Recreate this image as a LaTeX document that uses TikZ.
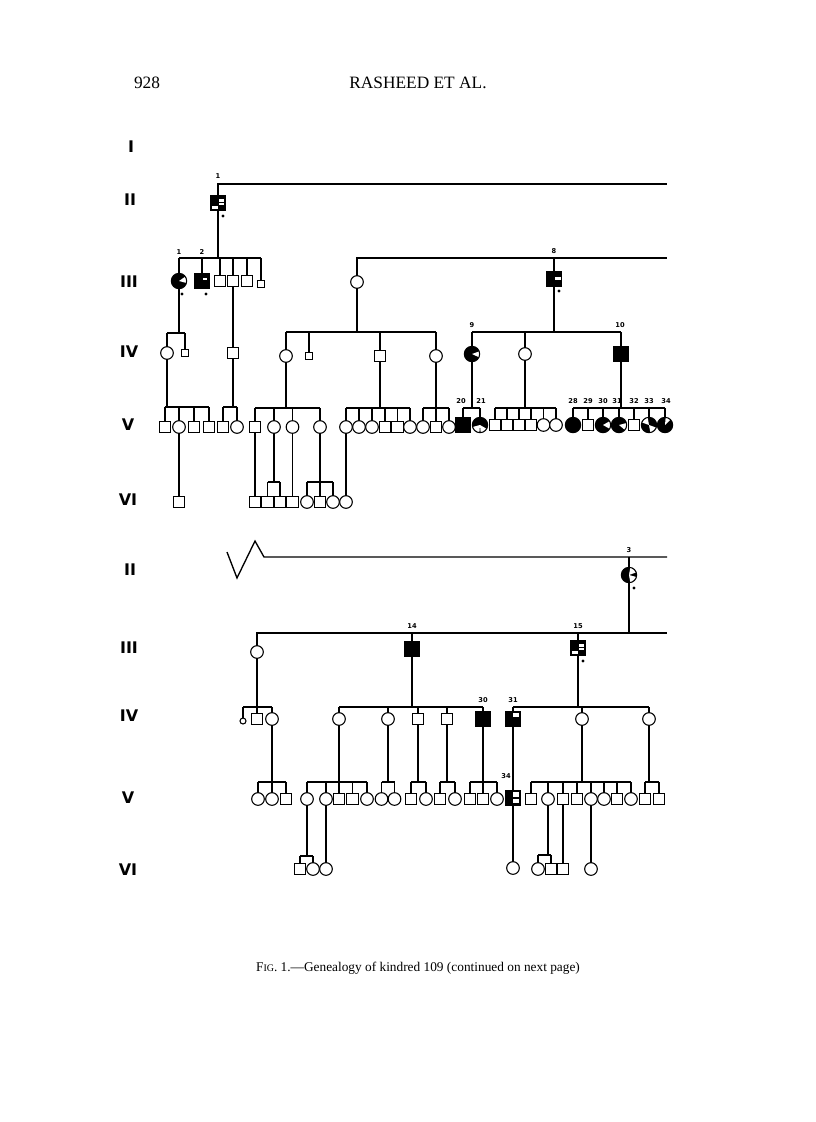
\documentclass[tikz,border=0pt]{standalone}
\usepackage{fontspec}
\setmainfont{Liberation Serif}
\newfontfamily\gfont{DejaVu Sans}
\newcommand\wsec[2]{\fill[white] (path picture bounding box.center) -- +(#1:9pt) arc[start angle=#1,end angle=#2,radius=9pt] -- cycle;}
\newcommand\wrect[4]{\fill[white] ([shift={(#1pt,#3pt)}]path picture bounding box.center) rectangle ([shift={(#2pt,#4pt)}]path picture bounding box.center);}
\newcommand\patA{\wrect{0.9}{4.7}{1.1}{3.2}\wrect{0.9}{4.7}{-1.5}{0.2}\wrect{-4.2}{-0.3}{-4.7}{-2.3}}
\newcommand\sibs[5]{%
  \coordinate (sy) at (0,#2);
  \draw[ln] (#1.south) -- (#1.south |- sy);
  \draw[ln] (#3.north |- sy) -- (#4.north |- sy);
  \foreach \c in {#5}{\draw[ln] (\c.north) -- (\c.north |- sy);}
}
\tikzset{
  sym/.style={draw, line width=0.8pt, inner sep=0pt, outer sep=0pt},
  sq/.style={sym, rectangle, minimum size=8.5pt, fill=white},
  ci/.style={sym, circle, minimum size=9.5pt, fill=white},
  ssq/.style={sym, rectangle, minimum size=5pt, fill=white},
  sci/.style={sym, circle, minimum size=4.5pt, fill=white},
  asq/.style={sym, rectangle, minimum size=11pt, fill=black},
  aci/.style={sym, circle, minimum size=11.5pt, fill=black},
  ln/.style={line width=1pt},
  lbl/.style={font=\gfont\bfseries\fontsize{5}{5}\selectfont, inner sep=0pt},
  adot/.style={circle, fill=black, minimum size=2.4pt, inner sep=0pt},
  gen/.style={font=\gfont\bfseries\fontsize{12}{12}\selectfont, inner sep=0pt},
  hdr/.style={font=\fontsize{13}{13}\selectfont, inner sep=0pt},
  capt/.style={font=\fontsize{10}{12}\selectfont, inner sep=0pt}
}
\begin{document}
\begin{tikzpicture}[x=0.75pt,y=-0.75pt]
\useasboundingbox (0,0) rectangle (816,1122);
\fill[white] (0,0) rectangle (816,1122);
% header
\node[hdr] (pg) at (147,83) {928};
\node[hdr] (ti) at (418,83) {RASHEED ET AL.};
% generation numerals
\node[gen] (g1) at (131,147) {I};
\node[gen] (g2) at (130,200) {II};
\node[gen] (g3) at (129,282) {III};
\node[gen] (g4) at (129,352) {IV};
\node[gen] (g5) at (128,425) {V};
\node[gen] (g6) at (128,500) {VI};
\node[gen] (g7) at (130,570) {II};
\node[gen] (g8) at (129,648) {III};
\node[gen] (g9) at (129,716) {IV};
\node[gen] (g10) at (128,798) {V};
\node[gen] (g11) at (128,870) {VI};
% ===== top part =====
\coordinate (t1) at (667,184);
\coordinate (t2) at (667,258);
\node[asq, path picture={\patA}] (ii1) at (218,203) {};
\node[lbl] (L1) at (218,176) {1};
\node[adot] (dt1) at (223,216) {};
\draw[ln] (ii1.north) |- (t1);
% III
\node[aci, path picture={\wsec{-15}{35}}] (a1) at (179,281) {};
\node[asq, path picture={\wrect{0.8}{3.7}{0.4}{2.2}}] (a2) at (202,281) {};
\node[sq] (a3) at (220,281) {};
\node[sq] (a4) at (233,281) {};
\node[sq] (a5) at (247,281) {};
\node[ssq] (a6) at (261,284) {};
\node[lbl] (La1) at (179,252) {1};
\node[lbl] (La2) at (202,252) {2};
\node[adot] (dt2) at (182,294) {};
\node[adot] (dt3) at (206,294) {};
\sibs{ii1}{258}{a1}{a6}{a1,a2,a3,a4,a5,a6}
% IV
\node[ci] (b1) at (167,353) {};
\node[ssq] (b2) at (185,353) {};
\sibs{a1}{333}{b1}{b2}{b1,b2}
\node[sq] (b3) at (233,353) {};
\draw[ln] (a4.south) -- (b3.north);
% V
\node[sq] (c1) at (165,427) {};
\node[ci] (c2) at (179,427) {};
\node[sq] (c3) at (194,427) {};
\node[sq] (c4) at (209,427) {};
\sibs{b1}{407}{c1}{c4}{c1,c2,c3,c4}
\node[sq] (c5) at (223,427) {};
\node[ci] (c6) at (237,427) {};
\sibs{b3}{407}{c5}{c6}{c5,c6}
% VI
\node[sq] (d1) at (179,502) {};
\draw[ln] (c2.south) -- (d1.north);
% right branch of top
\node[ci] (e1) at (357,282) {};
\draw[ln] (e1.north) |- (t2);
\node[asq, path picture={\wrect{0.8}{5}{-0.8}{1.4}}] (e8) at (554,279) {};
\node[lbl] (Le8) at (554,251) {8};
\node[adot] (dt4) at (559,291) {};
\draw[ln] (e8.north) -- (e8.north |- t2);
\node[ci] (f1) at (286,356) {};
\node[ssq] (f2) at (309,356) {};
\node[sq] (f3) at (380,356) {};
\node[ci] (f4) at (436,356) {};
\sibs{e1}{332}{f1}{f4}{f1,f2,f3,f4}
\node[sq] (g1n) at (255,427) {};
\node[ci] (g2n) at (274,427) {};
\node[ci] (g3n) at (292.5,427) {};
\node[ci] (g4n) at (320,427) {};
\sibs{f1}{408}{g1n}{g4n}{g1n,g2n,g3n,g4n}
\node[sq] (h1) at (255,502) {};
\draw[ln] (g1n.south) -- (h1.north);
\node[sq] (h2) at (267.5,502) {};
\node[sq] (h3) at (280,502) {};
\sibs{g2n}{482}{h2}{h3}{h2,h3}
\node[sq] (h4) at (292.5,502) {};
\draw[ln] (g3n.south) -- (h4.north);
\node[ci] (h5) at (307,502) {};
\node[sq] (h6) at (320,502) {};
\node[ci] (h7) at (333,502) {};
\sibs{g4n}{482}{h5}{h7}{h5,h6,h7}
\node[ci] (g5n) at (346,427) {};
\node[ci] (g6n) at (359,427) {};
\node[ci] (g7n) at (372,427) {};
\node[sq] (g8n) at (385,427) {};
\node[sq] (g9n) at (397.5,427) {};
\node[ci] (g10n) at (410,427) {};
\sibs{f3}{408}{g5n}{g10n}{g5n,g6n,g7n,g8n,g9n,g10n}
\node[ci] (h8) at (346,502) {};
\draw[ln] (g5n.south) -- (h8.north);
\node[ci] (g11n) at (423,427) {};
\node[sq] (g12n) at (436,427) {};
\node[ci] (g13n) at (449,427) {};
\sibs{f4}{408}{g11n}{g13n}{g11n,g12n,g13n}
% III-8 family
\node[aci, path picture={\wsec{-25}{20}}] (i9) at (472,354) {};
\node[ci] (i2) at (525,354) {};
\node[asq] (i10) at (621,354) {};
\node[lbl] (Li9) at (472,325) {9};
\node[lbl] (Li10) at (620,325) {10};
\sibs{e8}{332}{i9}{i10}{i9,i2,i10}
\node[asq] (j20) at (463,425) {};
\node[aci, path picture={\wsec{195}{265}\wsec{275}{330}}] (j21) at (480,425) {};
\node[lbl] (Lj20) at (461,401) {20};
\node[lbl] (Lj21) at (481,401) {21};
\sibs{i9}{408}{j20}{j21}{j20,j21}
\node[sq] (j1) at (495,425) {};
\node[sq] (j2) at (507,425) {};
\node[sq] (j3) at (519,425) {};
\node[sq] (j4) at (531,425) {};
\node[ci] (j5) at (543.5,425) {};
\node[ci] (j6) at (556,425) {};
\sibs{i2}{408}{j1}{j6}{j1,j2,j3,j4,j5,j6}
\node[aci] (k28) at (573,425) {};
\node[sq] (k29) at (588,425) {};
\node[aci, path picture={\wsec{-30}{30}}] (k30) at (603,425) {};
\node[aci, path picture={\wsec{-40}{15}}] (k31) at (619,425) {};
\node[sq] (k32) at (634,425) {};
\node[aci, path picture={\wsec{100}{160}\wsec{280}{340}}] (k33) at (649,425) {};
\node[aci, path picture={\wsec{45}{85}}] (k34) at (665,425) {};
\node[lbl] (Lk28) at (573,401) {28};
\node[lbl] (Lk29) at (588,401) {29};
\node[lbl] (Lk30) at (603,401) {30};
\node[lbl] (Lk31) at (617,401) {31};
\node[lbl] (Lk32) at (634,401) {32};
\node[lbl] (Lk33) at (649,401) {33};
\node[lbl] (Lk34) at (666,401) {34};
\sibs{i10}{408}{k28}{k34}{k28,k29,k30,k31,k32,k33,k34}
% ===== bottom part =====
\coordinate (z1) at (227,552);
\coordinate (z2) at (237,578);
\coordinate (z3) at (255,541);
\coordinate (z4) at (264,557);
\coordinate (t3) at (667,557);
\coordinate (t4) at (667,633);
\draw[ln] (z1) -- (z2) -- (z3) -- (z4) -- (t3);
\node[aci, path picture={\wsec{20}{80}\wsec{-80}{-15}}] (m3) at (629,575) {};
\node[lbl] (Lm3) at (629,550) {3};
\node[adot] (dt5) at (634,588) {};
\draw[ln] (m3.north) -- (m3.north |- t3);
\node[ci] (n1) at (257,652) {};
\node[asq] (n14) at (412,649) {};
\node[asq, path picture={\patA}] (n15) at (578,648) {};
\node[lbl] (Ln14) at (412,626) {14};
\node[lbl] (Ln15) at (578,626) {15};
\node[adot] (dt6) at (583,661) {};
\draw[ln] (n1.north) |- (t4);
\draw[ln] (m3.south) -- (m3.south |- t4);
\draw[ln] (n14.north) -- (n14.north |- t4);
\draw[ln] (n15.north) -- (n15.north |- t4);
% IV
\node[sci] (o1) at (243,721) {};
\node[sq] (o2) at (257,719) {};
\node[ci] (o3) at (272,719) {};
\sibs{n1}{707}{o1}{o3}{o1,o2,o3}
\node[ci] (o4) at (339,719) {};
\node[ci] (o5) at (388,719) {};
\node[sq] (o6) at (418,719) {};
\node[sq] (o7) at (447,719) {};
\node[asq] (o30) at (483,719) {};
\node[lbl] (Lo30) at (483,700) {30};
\sibs{n14}{707}{o4}{o30}{o4,o5,o6,o7,o30}
\node[asq, path picture={\wrect{0.3}{4.7}{1.6}{4.7}}] (o31) at (513,719) {};
\node[ci] (o8) at (582,719) {};
\node[ci] (o9) at (649,719) {};
\node[lbl] (Lo31) at (513,700) {31};
\sibs{n15}{707}{o31}{o9}{o31,o8,o9}
% V
\node[ci] (p1) at (258,799) {};
\node[ci] (p2) at (272,799) {};
\node[sq] (p3) at (286,799) {};
\sibs{o3}{782}{p1}{p3}{p1,p2,p3}
\node[ci] (p4) at (307,799) {};
\node[ci] (p5) at (326,799) {};
\node[sq] (p6) at (339,799) {};
\node[sq] (p7) at (352.5,799) {};
\node[ci] (p8) at (367,799) {};
\sibs{o4}{782}{p4}{p8}{p4,p5,p6,p7,p8}
\node[ci] (p9) at (381.5,799) {};
\node[ci] (p10) at (394.5,799) {};
\sibs{o5}{782}{p9}{p10}{p9,p10}
\node[sq] (p11) at (411,799) {};
\node[ci] (p12) at (426,799) {};
\sibs{o6}{782}{p11}{p12}{p11,p12}
\node[sq] (p13) at (440,799) {};
\node[ci] (p14) at (455,799) {};
\sibs{o7}{782}{p13}{p14}{p13,p14}
\node[sq] (p15) at (470,799) {};
\node[sq] (p16) at (483,799) {};
\node[ci] (p17) at (497,799) {};
\sibs{o30}{782}{p15}{p17}{p15,p16,p17}
\node[asq, path picture={\wrect{0.2}{4.7}{0.6}{4.2}\wrect{0.2}{4.7}{-4.1}{-0.8}}] (p34) at (513,798) {};
\node[lbl] (Lp34) at (506,776) {34};
\draw[ln] (o31.south) -- (p34.north);
\node[sq] (p18) at (531,799) {};
\node[ci] (p19) at (548,799) {};
\node[sq] (p20) at (563,799) {};
\node[sq] (p21) at (577,799) {};
\node[ci] (p22) at (591,799) {};
\node[ci] (p23) at (604,799) {};
\node[sq] (p24) at (617,799) {};
\node[ci] (p25) at (631,799) {};
\sibs{o8}{782}{p18}{p25}{p18,p19,p20,p21,p22,p23,p24,p25}
\node[sq] (p26) at (645,799) {};
\node[sq] (p27) at (659,799) {};
\sibs{o9}{782}{p26}{p27}{p26,p27}
% VI
\node[sq] (q1) at (300,869) {};
\node[ci] (q2) at (313,869) {};
\sibs{p4}{856}{q1}{q2}{q1,q2}
\node[ci] (q3) at (326,869) {};
\draw[ln] (p5.south) -- (q3.north);
\node[ci] (q4) at (513,868) {};
\draw[ln] (p34.south) -- (q4.north);
\node[ci] (q5) at (538,869) {};
\node[sq] (q6) at (551,869) {};
\sibs{p19}{855}{q5}{q6}{q5,q6}
\node[sq] (q7) at (563,869) {};
\draw[ln] (p20.south) -- (q7.north);
\node[ci] (q8) at (591,869) {};
\draw[ln] (p22.south) -- (q8.north);
% caption
\node[capt] (cap) at (418,968) {F{\fontsize{7.5}{9}\selectfont IG}. 1.\textemdash Genealogy of kindred 109 (continued on next page)};
\end{tikzpicture}
\end{document}
